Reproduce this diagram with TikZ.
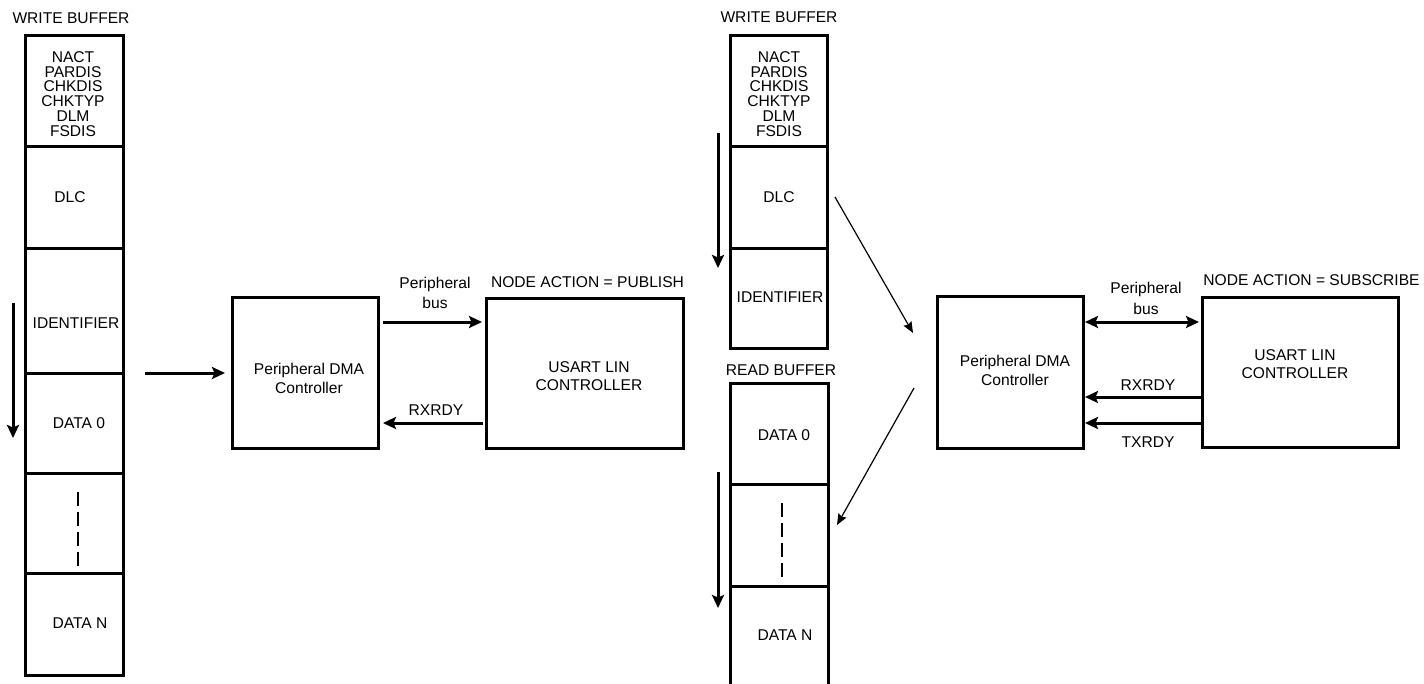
\documentclass[tikz,border=0pt]{standalone}
\usepackage{fontspec}
\setmainfont{Liberation Sans}
\usetikzlibrary{arrows.meta}
\begin{document}
\begin{tikzpicture}[x=1pt,y=-1pt,
  cell/.style={draw, line width=3pt, inner sep=0pt, outer sep=0pt, minimum width=#1},
  blk/.style={draw, line width=3pt, inner sep=0pt, outer sep=0pt},
  lbl/.style={font=\fontsize{15.6}{19.5}\selectfont, inner sep=0pt, align=center},
  stack/.style={font=\fontsize{15.6}{14.9}\selectfont, inner sep=0pt, align=center},
  thickarrow/.style={line width=3pt, -{Stealth[length=13pt,width=12pt,inset=2.5pt]}},
  botharrow/.style={line width=3pt, {Stealth[length=13pt,width=12pt,inset=2.5pt]}-{Stealth[length=13pt,width=12pt,inset=2.5pt]}},
  thinarrow/.style={line width=1.2pt, -{Stealth[length=11pt,width=9pt,inset=1.5pt]}},
  dashline/.style={line width=1.2pt, dash pattern=on 14pt off 6pt}
]
\useasboundingbox (0,0) rectangle (1424,683);

% ---------- left write buffer ----------
\node[lbl] (wbA) at (71,18) {WRITE BUFFER};
\node[cell=98pt, minimum height=111pt] (a1) at (74,90.5) {};
\node[cell=98pt, minimum height=102pt] (a2) at (74,197) {};
\node[cell=98pt, minimum height=125pt] (a3) at (74,310.5) {};
\node[cell=98pt, minimum height=100pt] (a4) at (74,423) {};
\node[cell=98pt, minimum height=100pt] (a5) at (74,523) {};
\node[cell=98pt, minimum height=102pt] (a6) at (74,624) {};
\node[stack] (ta1) at (73,94) {NACT\\PARDIS\\CHKDIS\\CHKTYP\\DLM\\FSDIS};
\node[lbl] (ta2) at (70,197) {DLC};
\node[lbl] (ta3) at (76,323) {IDENTIFIER};
\node[lbl] (ta4) at (79,423) {DATA 0};
\node[lbl] (ta6) at (80,623) {DATA N};
\coordinate (da1) at (78,492);
\coordinate (da2) at (78,568);
\draw[dashline] (da1) -- (da2);
\coordinate (va1) at (13,303);
\coordinate (va2) at (13,438);
\draw[thickarrow] (va1) -- (va2);

% ---------- left DMA / USART ----------
\node[blk, minimum width=146pt, minimum height=151pt] (dma1) at (305,372.5) {};
\node[blk, minimum width=197pt, minimum height=150pt] (us1) at (584.5,373) {};
\node[lbl, font=\fontsize{15.6}{19}\selectfont] (tdma1) at (309,378.5) {Peripheral DMA\\Controller};
\node[lbl, font=\fontsize{15.6}{18}\selectfont] (tus1) at (589,376) {USART LIN\\CONTROLLER};
\node[lbl] (na1) at (587.5,282) {NODE ACTION = PUBLISH};
\node[lbl, font=\fontsize{15.6}{20}\selectfont] (pb1) at (435,293) {Peripheral\\bus};
\node[lbl] (rx1) at (436,410) {RXRDY};
\coordinate (in1) at (145,373);
\coordinate (yA) at (0,322);
\coordinate (yB) at (0,423);
\draw[thickarrow, shorten >=7pt] (in1) -- (in1 -| dma1.west);
\draw[thickarrow, shorten <=5pt, shorten >=4pt] (dma1.east |- yA) -- (us1.west |- yA);
\draw[thickarrow, shorten <=3pt, shorten >=5pt] (us1.west |- yB) -- (dma1.east |- yB);

% ---------- middle write buffer ----------
\node[lbl] (wbB) at (779,17) {WRITE BUFFER};
\node[cell=97pt, minimum height=111pt] (b1) at (778.5,90.5) {};
\node[cell=97pt, minimum height=102pt] (b2) at (778.5,197) {};
\node[cell=97pt, minimum height=100pt] (b3) at (778.5,298) {};
\node[stack] (tb1) at (779,94) {NACT\\PARDIS\\CHKDIS\\CHKTYP\\DLM\\FSDIS};
\node[lbl] (tb2) at (779,197) {DLC};
\node[lbl] (tb3) at (780,297) {IDENTIFIER};
\coordinate (vb1) at (718,133);
\coordinate (vb2) at (718,268);
\draw[thickarrow] (vb1) -- (vb2);

% ---------- read buffer ----------
\node[lbl] (rbC) at (781,370) {READ BUFFER};
\node[cell=98pt, minimum height=101pt] (c1) at (779,433.5) {};
\node[cell=98pt, minimum height=102pt] (c2) at (779,535) {};
\begin{scope}
\clip (0,0) rectangle (1424,683);
\node[cell=98pt, minimum height=130pt] (c3) at (779,651) {};
\end{scope}
\node[lbl] (tc1) at (784,435) {DATA 0};
\node[lbl] (tc3) at (785,635) {DATA N};
\coordinate (dc1) at (782,503);
\coordinate (dc2) at (782,579);
\draw[dashline] (dc1) -- (dc2);
\coordinate (vc1) at (718,472);
\coordinate (vc2) at (718,608);
\draw[thickarrow] (vc1) -- (vc2);

% ---------- diagonal arrows ----------
\coordinate (gA1) at (835,197);
\coordinate (gA2) at (913,333);
\coordinate (gB1) at (914,388);
\coordinate (gB2) at (837,525);
\draw[thinarrow] (gA1) -- (gA2);
\draw[thinarrow] (gB1) -- (gB2);

% ---------- right DMA / USART ----------
\node[blk, minimum width=146pt, minimum height=152pt] (dma2) at (1010,372) {};
\node[blk, minimum width=196pt, minimum height=150pt] (us2) at (1300,372) {};
\node[lbl, font=\fontsize{15.6}{19}\selectfont] (tdma2) at (1015,370.5) {Peripheral DMA\\Controller};
\node[lbl, font=\fontsize{15.6}{18}\selectfont] (tus2) at (1295,364) {USART LIN\\CONTROLLER};
\node[lbl] (na2) at (1311.5,280) {NODE ACTION = SUBSCRIBE};
\node[lbl, font=\fontsize{15.6}{21}\selectfont] (pb2) at (1146,298.5) {Peripheral\\bus};
\node[lbl] (rx2) at (1148,385) {RXRDY};
\node[lbl] (tx2) at (1148,442) {TXRDY};
\coordinate (yC) at (0,322);
\coordinate (yD) at (0,397);
\coordinate (yE) at (0,423);
\draw[botharrow, shorten <=2pt, shorten >=3pt] (dma2.east |- yC) -- (us2.west |- yC);
\draw[thickarrow, shorten >=2pt] (us2.west |- yD) -- (dma2.east |- yD);
\draw[thickarrow, shorten >=2pt] (us2.west |- yE) -- (dma2.east |- yE);
\end{tikzpicture}
\end{document}
